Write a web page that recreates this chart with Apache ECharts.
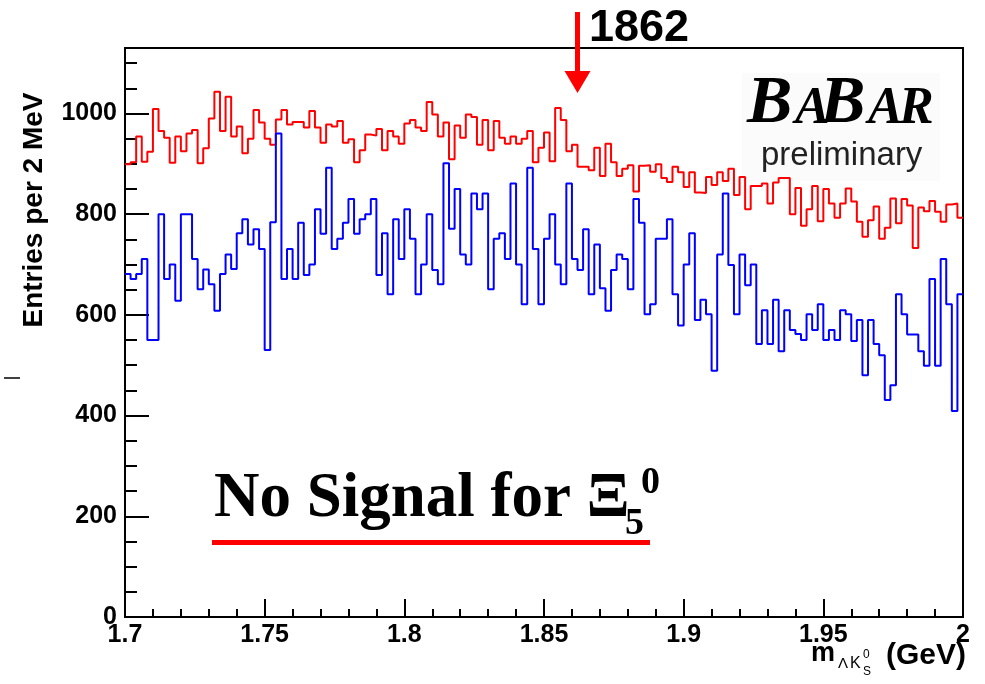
<!DOCTYPE html>
<html>
<head>
<meta charset="utf-8">
<script src="https://cdn.jsdelivr.net/npm/echarts@6/dist/echarts.min.js"></script>
<style>
  html, body { margin: 0; padding: 0; background: #fff; }
  #main { width: 985px; height: 684px; }
</style>
</head>
<body>
<div id="main"></div>
<script>
// histogram binning: 150 bins of 2 MeV from 1.7 to 2.0 GeV
const xMin = 1.7;
const xMax = 2.0;
const binWidth = 0.002;
const xTickStep = 0.05;
const yMax = 1130;

// entries per bin, red histogram (upper)
const redCounts = [
  899, 903, 954, 904, 924, 1009, 965, 952, 902, 954,
  925, 960, 967, 901, 931, 990, 1043, 965, 1033, 954,
  974, 921, 950, 1007, 982, 950, 938, 988, 1007, 978,
  983, 983, 972, 1005, 972, 942, 978, 974, 985, 942,
  949, 903, 927, 958, 956, 969, 927, 965, 954, 940,
  980, 987, 972, 965, 1023, 998, 954, 982, 909, 976,
  952, 998, 993, 938, 987, 927, 985, 952, 940, 954,
  940, 950, 965, 903, 932, 962, 905, 1011, 987, 925,
  938, 894, 894, 887, 932, 876, 940, 903, 876, 890,
  897, 845, 896, 897, 884, 899, 872, 864, 894, 883,
  854, 883, 843, 842, 874, 858, 883, 866, 890, 838,
  874, 810, 856, 856, 861, 821, 863, 872, 872, 800,
  852, 777, 810, 856, 786, 850, 821, 793, 821, 851,
  825, 785, 755, 788, 815, 751, 773, 831, 782, 830,
  817, 733, 813, 806, 826, 805, 785, 819, 821, 793
];

// entries per bin, blue histogram (lower)
const blueCounts = [
  681, 671, 681, 711, 550, 550, 800, 671, 700, 628,
  800, 800, 711, 651, 690, 661, 608, 681, 720, 691,
  762, 790, 740, 770, 731, 530, 784, 960, 671, 731,
  671, 783, 679, 700, 810, 761, 892, 731, 751, 783,
  830, 761, 790, 800, 830, 679, 762, 641, 790, 711,
  810, 751, 641, 700, 800, 689, 661, 901, 771, 850,
  720, 700, 841, 810, 841, 651, 751, 762, 711, 861,
  700, 621, 892, 731, 621, 751, 800, 700, 661, 861,
  711, 689, 770, 641, 740, 653, 608, 689, 720, 711,
  651, 830, 783, 601, 621, 751, 751, 790, 641, 579,
  700, 762, 590, 630, 601, 489, 720, 841, 699, 601,
  720, 659, 700, 542, 609, 542, 630, 528, 609, 570,
  562, 550, 601, 570, 621, 550, 570, 550, 609, 601,
  548, 590, 480, 590, 542, 520, 431, 460, 641, 601,
  561, 561, 528, 499, 671, 499, 711, 621, 409, 641
];

const markMass = 1.862;
const markLabel = '1862';

const SANS = '"Liberation Sans", Arial, Helvetica, sans-serif';
const SERIF = '"Liberation Serif", "Times New Roman", serif';

// bin low edges + closing edge, drawn as a step line
function histPoints(counts) {
  const pts = counts.map((v, i) => [xMin + i * binWidth, v]);
  pts.push([xMax, counts[counts.length - 1]]);
  return pts;
}

const chart = echarts.init(document.getElementById('main'));

const axisBlack = { color: '#000', width: 2 };

chart.setOption({
  animation: false,
  backgroundColor: '#fff',
  grid: {
    left: 125, right: 22, top: 48, bottom: 67,
    show: true, borderColor: '#000', borderWidth: 2, backgroundColor: 'transparent'
  },
  xAxis: {
    type: 'value', min: xMin, max: xMax, interval: xTickStep,
    axisLine: { lineStyle: axisBlack },
    axisTick: { inside: true, length: 18, lineStyle: axisBlack },
    minorTick: { show: true, splitNumber: 5, length: 8, lineStyle: axisBlack },
    splitLine: { show: false },
    axisLabel: {
      color: '#000', fontFamily: SANS, fontWeight: 'bold', fontSize: 25, margin: 6,
      formatter: v => String(+v.toFixed(2))
    }
  },
  yAxis: [{
    type: 'value', min: 0, max: yMax, interval: 200,
    axisLine: { lineStyle: axisBlack },
    axisTick: { inside: true, length: 24, lineStyle: axisBlack },
    splitLine: { show: false },
    axisLabel: {
      color: '#000', fontFamily: SANS, fontWeight: 'bold', fontSize: 25, margin: 8,
      showMaxLabel: false,
      formatter: v => String(v)
    }
  }, {
    // minor ticks every 50
    type: 'value', min: 0, max: yMax, interval: 50, position: 'left',
    axisLine: { show: false },
    axisTick: { inside: true, length: 12, lineStyle: axisBlack },
    splitLine: { show: false },
    axisLabel: { show: false }
  }],
  series: [{
    name: 'red', type: 'line', step: 'end', symbol: 'none', yAxisIndex: 0,
    lineStyle: { color: '#ff0000', width: 2 },
    data: histPoints(redCounts)
  }, {
    name: 'blue', type: 'line', step: 'end', symbol: 'none', yAxisIndex: 0,
    lineStyle: { color: '#0000ff', width: 2 },
    data: histPoints(blueCounts)
  }]
});

// annotations
const px = chart.convertToPixel({ xAxisIndex: 0 }, markMass);

chart.setOption({
  graphic: [
    // y axis title
    {
      type: 'text', x: 34, y: 210, rotation: Math.PI / 2,
      style: { text: 'Entries per 2 MeV', fill: '#000', font: 'bold 28px ' + SANS, align: 'center', verticalAlign: 'middle' }
    },
    // stray mark on the left
    { type: 'line', shape: { x1: 4, y1: 378, x2: 20, y2: 378 }, style: { stroke: '#000', lineWidth: 1.5 } },
    // arrow at 1862
    { type: 'rect', shape: { x: px - 2.5, y: 12, width: 5, height: 62 }, style: { fill: '#ff0000' } },
    { type: 'polygon', shape: { points: [[px - 13, 71], [px + 13, 71], [px, 93]] }, style: { fill: '#ff0000' } },
    {
      type: 'text', x: 589, y: 28.5,
      style: { text: markLabel, fill: '#000', font: 'bold 45px ' + SANS, align: 'left', verticalAlign: 'middle' }
    },
    // BaBar logo
    { type: 'rect', shape: { x: 742, y: 73, width: 198, height: 108 }, style: { fill: '#fbfbfb' } },
    { type: 'text', x: 747, y: 104, style: { text: 'B', fill: '#000', font: 'italic bold 68px ' + SERIF, verticalAlign: 'middle' } },
    { type: 'text', x: 795, y: 110, style: { text: 'A', fill: '#000', font: 'italic bold 52px ' + SERIF, verticalAlign: 'middle' } },
    { type: 'text', x: 820, y: 104, style: { text: 'B', fill: '#000', font: 'italic bold 68px ' + SERIF, verticalAlign: 'middle' } },
    { type: 'text', x: 868, y: 110, style: { text: 'A', fill: '#000', font: 'italic bold 52px ' + SERIF, verticalAlign: 'middle' } },
    { type: 'text', x: 899, y: 110, style: { text: 'R', fill: '#000', font: 'italic bold 52px ' + SERIF, verticalAlign: 'middle' } },
    {
      type: 'text', x: 761, y: 156,
      style: { text: 'preliminary', fill: '#222', font: '33px ' + SANS, align: 'left', verticalAlign: 'middle' }
    },
    // No Signal for Xi_5^0
    {
      type: 'text', x: 214, y: 500,
      style: { text: 'No Signal for Ξ', fill: '#000', font: 'bold 63px ' + SERIF, align: 'left', verticalAlign: 'middle' }
    },
    { type: 'text', x: 625, y: 524, style: { text: '5', fill: '#000', font: 'bold 38px ' + SERIF, verticalAlign: 'middle' } },
    { type: 'text', x: 641, y: 483, style: { text: '0', fill: '#000', font: 'bold 38px ' + SERIF, verticalAlign: 'middle' } },
    { type: 'rect', shape: { x: 212, y: 540, width: 438, height: 5 }, style: { fill: '#ff0000' } },
    // x axis title m_{Lambda K0s} (GeV)
    { type: 'text', x: 811, y: 654, style: { text: 'm', fill: '#000', font: 'bold 27px ' + SANS, verticalAlign: 'middle' } },
    { type: 'text', x: 838, y: 664, style: { text: 'Λ', fill: '#000', font: '15px ' + SANS, verticalAlign: 'middle' } },
    { type: 'text', x: 850, y: 664, style: { text: 'K', fill: '#000', font: '16px ' + SANS, verticalAlign: 'middle' } },
    { type: 'text', x: 863, y: 655, style: { text: '0', fill: '#000', font: '12px ' + SANS, verticalAlign: 'middle' } },
    { type: 'text', x: 863, y: 672, style: { text: 'S', fill: '#000', font: '12px ' + SANS, verticalAlign: 'middle' } },
    {
      type: 'text', x: 966, y: 656,
      style: { text: '(GeV)', fill: '#000', font: 'bold 30px ' + SANS, align: 'right', verticalAlign: 'middle' }
    }
  ]
});
</script>
</body>
</html>
